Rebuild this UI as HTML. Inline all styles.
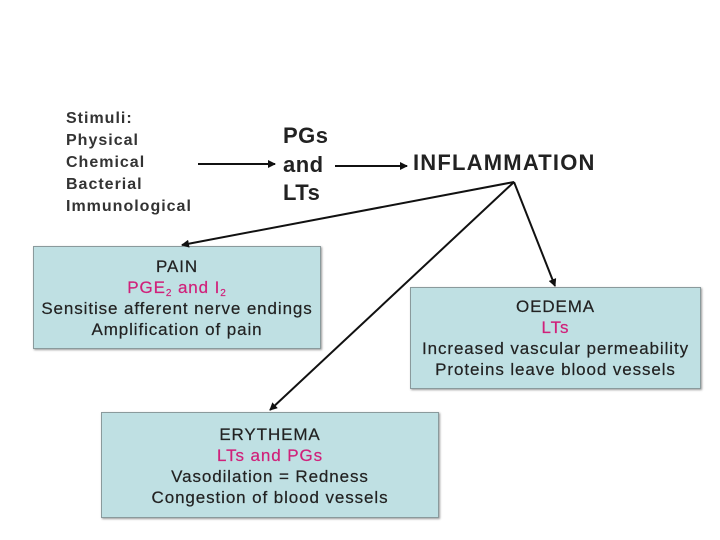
<!DOCTYPE html>
<html><head><style>
body{margin:0;width:720px;height:540px;background:#fff;position:relative;overflow:hidden;font-family:"Liberation Sans",sans-serif;color:#222}
.t{position:absolute;white-space:nowrap}
.box{position:absolute;background:#bfe0e3;border:1px solid #8a9a9c;box-shadow:1px 1px 2px #999;text-align:center;font-size:17px;letter-spacing:0.9px;line-height:21px;box-sizing:border-box;-webkit-text-stroke:0.2px #222}
.m{color:#d0207a;-webkit-text-stroke:0.2px #d0207a}
sub{font-size:10px;vertical-align:-3px;line-height:0}
</style></head><body>
<div class="t" style="left:66px;top:108px;font-size:16px;line-height:22px;font-weight:bold;letter-spacing:1px;color:#333">Stimuli:<br>Physical<br>Chemical<br>Bacterial<br>Immunological</div>
<div class="t" style="left:283px;top:122px;font-size:22px;line-height:28.5px;font-weight:bold;letter-spacing:0.5px;color:#222">PGs<br>and<br>LTs</div>
<div class="t" style="left:413px;top:150px;font-size:22px;font-weight:bold;letter-spacing:1.2px;color:#222">INFLAMMATION</div>
<div class="box" style="left:33px;top:246px;width:288px;height:103px;padding-top:9px">PAIN<br><span class="m">PGE<sub>2</sub> and I<sub>2</sub></span><br>Sensitise afferent nerve endings<br>Amplification of pain</div>
<div class="box" style="left:410px;top:287px;width:291px;height:102px;padding-top:8px">OEDEMA<br><span class="m">LTs</span><br>Increased vascular permeability<br>Proteins leave blood vessels</div>
<div class="box" style="left:101px;top:412px;width:338px;height:106px;padding-top:11px">ERYTHEMA<br><span class="m">LTs and PGs</span><br>Vasodilation = Redness<br>Congestion of blood vessels</div>
<svg width="720" height="540" style="position:absolute;left:0;top:0">
<defs><marker id="a" markerWidth="8" markerHeight="8" refX="7" refY="4" orient="auto" markerUnits="userSpaceOnUse"><path d="M0,0 L8,4 L0,8 z" fill="#111"/></marker></defs>
<g stroke="#111" stroke-width="2" fill="none">
<line x1="198" y1="164" x2="275" y2="164" marker-end="url(#a)"/>
<line x1="335" y1="166" x2="407" y2="166" marker-end="url(#a)"/>
<line x1="514" y1="182" x2="182" y2="245" marker-end="url(#a)"/>
<line x1="514" y1="182" x2="555" y2="286" marker-end="url(#a)"/>
<line x1="514" y1="182" x2="270" y2="410" marker-end="url(#a)"/>
</g></svg>
</body></html>
